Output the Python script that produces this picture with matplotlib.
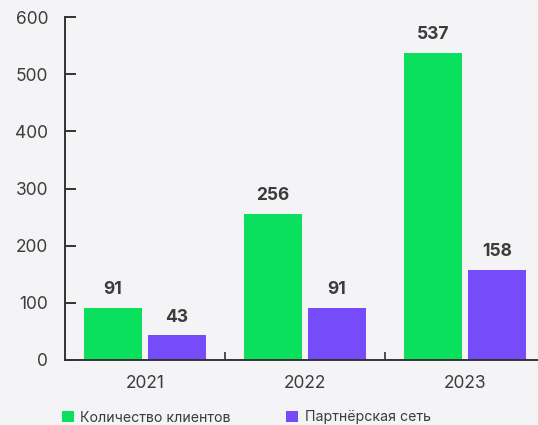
import matplotlib
matplotlib.use("Agg")
import matplotlib.pyplot as plt
import numpy as np
from matplotlib.ticker import FixedLocator

years = ["2021", "2022", "2023"]
clients = [91, 256, 537]
partners = [43, 91, 158]
series_names = ["Количество клиентов", "Партнёрская сеть"]
yticks = [0, 100, 200, 300, 400, 500, 600]

GREEN = "#0be05e"
PURPLE = "#764bfa"
BG = "#f4f4f6"
TXT = "#3c3c3c"

plt.rcParams['font.family'] = ['Inter', 'DejaVu Sans']

fig = plt.figure(figsize=(5.38, 4.25), dpi=100, facecolor=BG)
ax = fig.add_axes([65/538, 65/425, 480/538, 343/425])
ax.set_facecolor(BG)

x = np.arange(len(years))
w = 0.3625
b1 = ax.bar(x - 0.2, clients, width=w, color=GREEN)
b2 = ax.bar(x + 0.2, partners, width=w, color=PURPLE)

for bars, vals in ((b1, clients), (b2, partners)):
    for r, v in zip(bars, vals):
        ax.annotate(str(v), (r.get_x() + r.get_width()/2, v), xytext=(0, 7),
                    textcoords="offset points", ha="center", va="bottom",
                    fontsize=12.5, fontweight="bold", color=TXT)

ax.set_xlim(-0.5, 2.5)
ax.set_ylim(0, 600)
ax.set_yticks(yticks)
ax.set_xticks(x)
ax.set_xticklabels(years)
ax.xaxis.set_minor_locator(FixedLocator([0.5, 1.5]))

for s in ["top", "right"]:
    ax.spines[s].set_visible(False)
for s in ["left", "bottom"]:
    ax.spines[s].set_color("#333333")
    ax.spines[s].set_linewidth(1.4)

ax.tick_params(axis="y", direction="in", length=8, width=1.4, color="#333333",
               pad=12, labelsize=12.5, labelcolor=TXT)
ax.tick_params(axis="x", which="major", length=0, pad=11, labelsize=12.5, labelcolor=TXT)
ax.tick_params(axis="x", which="minor", direction="in", length=5.5, width=1.2, color="#333333")

fig.legend([b1, b2], series_names, loc="center left", bbox_to_anchor=(62/538, 1 - 417.5/425),
           ncol=2, frameon=False, fontsize=10.2, handlelength=0.85, handleheight=0.85,
           handletextpad=0.45, columnspacing=3.9, labelcolor=TXT, borderpad=0, borderaxespad=0)

fig.savefig("out.png", dpi=100, facecolor=BG)
